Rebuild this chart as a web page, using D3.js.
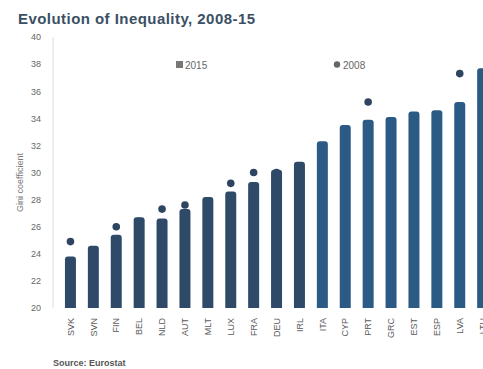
<!DOCTYPE html>
<html>
<head>
<meta charset="utf-8">
<script src="https://cdn.jsdelivr.net/npm/d3@7"></script>
<style>
  html, body { margin: 0; padding: 0; background: #fff; overflow: hidden; }
  svg { display: block; font-family: "Liberation Sans", Arial, sans-serif; }
</style>
</head>
<body>
<svg id="chart" width="483" height="369"></svg>
<script>
// Gini coefficients by country, sorted by the 2015 value
const countries = ["SVK","SVN","FIN","BEL","NLD","AUT","MLT","LUX","FRA","DEU",
                   "IRL","ITA","CYP","PRT","GRC","EST","ESP","LVA","LTU"];
const gini2015 = [23.8, 24.6, 25.4, 26.7, 26.6, 27.3, 28.2, 28.6, 29.3, 30.2,
                  30.8, 32.3, 33.5, 33.9, 34.1, 34.5, 34.6, 35.2, 37.7];
const gini2008 = [24.9, 23.4, 26.0, 26.4, 27.3, 27.6, 27.4, 29.2, 30.0, 30.0,
                  29.9, 31.9, 29.4, 35.2, 33.4, 33.1, 31.4, 37.3, 34.0];
const yTicks = [20, 22, 24, 26, 28, 30, 32, 34, 36, 38, 40];
const seriesNames = ["2015", "2008"];

const svg = d3.select("#chart");
const navy = "#2f4a68";
const blue = "#2b5a84";
const dotColor = "#2d4560";

const x = d3.scaleBand()
  .domain(countries)
  .range([59, 59 + countries.length * 22.9])
  .paddingInner(0.52)
  .paddingOuter(0.26);

const y = d3.scaleLinear().domain([20, 40]).range([308, 37]);

// Title
svg.append("text")
  .attr("x", 18).attr("y", 24)
  .attr("font-size", 15).attr("font-weight", "bold")
  .attr("letter-spacing", 0.45)
  .attr("fill", "#3b5064")
  .text("Evolution of Inequality, 2008-15");

// Y axis
const yAxis = d3.axisLeft(y).tickValues(yTicks).tickSize(0).tickPadding(0)
  .tickFormat(d3.format("d"));
const gy = svg.append("g").attr("transform", "translate(41,0)").call(yAxis);
gy.select(".domain").remove();
gy.selectAll("text").attr("font-size", 9).attr("fill", "#666")
  .attr("font-family", "Liberation Sans, Arial, sans-serif");

svg.append("line")
  .attr("x1", 53).attr("x2", 53).attr("y1", y(40)).attr("y2", y(20))
  .attr("stroke", "#ddd").attr("stroke-width", 1);

svg.append("text")
  .attr("transform", `translate(23,${(y(40) + y(20)) / 2 + 10}) rotate(-90)`)
  .attr("text-anchor", "middle")
  .attr("font-size", 9).attr("fill", "#777")
  .text("Gini coefficient");

// 2008 markers sit behind the bars
svg.append("g").selectAll("circle")
  .data(countries)
  .join("circle")
  .attr("cx", d => x(d) + x.bandwidth() / 2)
  .attr("cy", (d, i) => y(gini2008[i]))
  .attr("r", 3.8)
  .attr("fill", dotColor);

// 2015 bars with rounded tops
function barPath(x0, w, yTop, yBase, r) {
  return `M${x0},${yBase}V${yTop + r}Q${x0},${yTop} ${x0 + r},${yTop}` +
         `H${x0 + w - r}Q${x0 + w},${yTop} ${x0 + w},${yTop + r}V${yBase}Z`;
}
svg.append("g").selectAll("path")
  .data(countries)
  .join("path")
  .attr("d", (d, i) => barPath(x(d), x.bandwidth(), y(gini2015[i]), y(20), 3))
  .attr("fill", (d, i) => i < 11 ? navy : blue);

// X axis labels, rotated
const xAxis = d3.axisBottom(x).tickSize(0).tickPadding(0);
const gx = svg.append("g").attr("transform", `translate(0,${y(20)})`).call(xAxis);
gx.select(".domain").remove();
gx.selectAll("text")
  .attr("font-size", 9).attr("fill", "#5a5a5a")
  .attr("font-family", "Liberation Sans, Arial, sans-serif")
  .attr("text-anchor", "end")
  .attr("dy", "0.35em")
  .attr("transform", "translate(0,10) rotate(-90)")
  .attr("x", 0).attr("y", 0);

// Legend
const legend = svg.append("g").attr("font-size", 10).attr("fill", "#666");
legend.append("rect").attr("x", 176).attr("y", 61).attr("width", 7).attr("height", 7)
  .attr("fill", "#777");
legend.append("text").attr("x", 185).attr("y", 68.5).text(seriesNames[0]);
legend.append("circle").attr("cx", 337).attr("cy", 64.5).attr("r", 3.2).attr("fill", "#666");
legend.append("text").attr("x", 343).attr("y", 68.5).text(seriesNames[1]);

// Source note
svg.append("text")
  .attr("x", 53).attr("y", 366)
  .attr("font-size", 9).attr("font-weight", "bold").attr("fill", "#555")
  .text("Source: Eurostat");
</script>
</body>
</html>
